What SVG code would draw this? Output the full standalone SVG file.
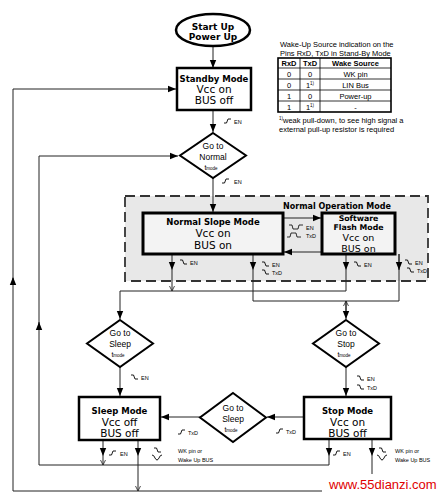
<svg xmlns="http://www.w3.org/2000/svg" width="444" height="497" viewBox="0 0 444 497">
<style>
.bx{fill:#fff;stroke:#000;stroke-width:2.5}
.nb{fill:#f3f3f3;stroke:#000;stroke-width:3}
.dm{fill:#fff;stroke:#000;stroke-width:2}
.ln{fill:none;stroke:#222;stroke-width:1}
.tb{font-family:"DejaVu Sans",Verdana,sans-serif;font-weight:bold;font-size:8.5px;text-anchor:middle;fill:#000}
.tr{font-family:"DejaVu Sans",Verdana,sans-serif;font-size:10.5px;text-anchor:middle;fill:#000}
.d{font-family:"Liberation Sans",Arial,sans-serif;font-size:8.5px;text-anchor:middle;fill:#000}
.s{font-family:"Liberation Sans",Arial,sans-serif;font-size:5.5px;fill:#000}
.tt{font-family:"Liberation Sans",Arial,sans-serif;font-size:7.5px;fill:#000}
.th{font-family:"Liberation Sans",Arial,sans-serif;font-size:7.5px;font-weight:bold;text-anchor:middle;fill:#000}
.tc{font-family:"Liberation Sans",Arial,sans-serif;font-size:7.5px;text-anchor:middle;fill:#000}
</style>
<defs>
<marker id="ah" markerUnits="userSpaceOnUse" markerWidth="8" markerHeight="8" viewBox="0 0 8 8" refX="8" refY="4" orient="auto"><path d="M0,0.8 L8,4 L0,7.2 Z" fill="#000"/></marker>
<marker id="ch" markerUnits="userSpaceOnUse" markerWidth="6" markerHeight="6" viewBox="0 0 6 6" refX="6" refY="3" orient="auto"><path d="M1,0.5 L6,3 L1,5.5" fill="none" stroke="#222" stroke-width="0.8"/></marker>
<path id="rise" d="M0,4 h2.5 l1.5,-4 h3" fill="none" stroke="#000" stroke-width="0.9"/>
<path id="fall" d="M0,0 h2.5 l1.5,4 h3" fill="none" stroke="#000" stroke-width="0.9"/>
<path id="dip" d="M0,0 q2,0 3,3 q1,2 2,2 q1,0 2,-2 q1,-3 3,-3" fill="none" stroke="#000" stroke-width="0.9"/>
<path id="npulse" d="M0,0 h3 l1,4 h5 l1,-4 h4" fill="none" stroke="#000" stroke-width="0.8"/>
<path id="ppulse" d="M0,4 h3 l1,-4 h5 l1,4 h4" fill="none" stroke="#000" stroke-width="0.8"/>
</defs>
<rect width="444" height="497" fill="#fff"/>

<g id="normal-operation-mode">
<rect x="125" y="196" width="303" height="85" fill="#e8e8e8" stroke="#333" stroke-width="1.8" stroke-dasharray="10,5"/>
<text x="337" y="209" class="tb" style="font-size:8px">Normal Operation Mode</text>
</g>

<g id="connectors">
<path class="ln" d="M213,46 V68" marker-end="url(#ah)"/>
<path class="ln" d="M213,110 V132" marker-end="url(#ah)"/>
<path class="ln" d="M213,178 V212" marker-end="url(#ah)"/>
<path class="ln" d="M283,218 H321" marker-end="url(#ah)"/>
<path class="ln" d="M322,252 H284" marker-end="url(#ah)"/>
<path class="ln" d="M172,254 V270" marker-end="url(#ah)"/>
<path class="ln" d="M172,270 V291" marker-end="url(#ch)"/>
<path class="ln" d="M253,254 V270" marker-end="url(#ah)"/>
<path class="ln" d="M253,270 V301 H399 V254"/>
<path class="ln" d="M399,254 V270" marker-end="url(#ah)"/>
<path class="ln" d="M346,254 V270" marker-end="url(#ah)"/>
<path class="ln" d="M346,270 V291 H120 V319" marker-end="url(#ah)"/>
<path class="ln" d="M346,312 V301" marker-end="url(#ch)"/>
<path class="ln" d="M346,301 V319" marker-end="url(#ah)"/>
<path class="ln" d="M120,367 V396" marker-end="url(#ah)"/>
<path class="ln" d="M346,367 V396" marker-end="url(#ah)"/>
<path class="ln" d="M200,417 H161" marker-end="url(#ah)"/>
<path class="ln" d="M304,417 H267" marker-end="url(#ah)"/>
<path class="ln" d="M103,440 V456" marker-end="url(#ah)"/>
<path class="ln" d="M103,456 V465" marker-end="url(#ch)"/>
<path class="ln" d="M138,440 V456" marker-end="url(#ah)"/>
<path class="ln" d="M138,456 V491" marker-end="url(#ch)"/>
<path class="ln" d="M329,439 V456" marker-end="url(#ah)"/>
<path class="ln" d="M329,456 V465"/>
<path class="ln" d="M372,439 V456" marker-end="url(#ah)"/>
<path class="ln" d="M372,456 V474"/>
<path class="ln" d="M329,465 H39 V322"/>
<path class="ln" d="M39,330 V322" marker-end="url(#ah)"/>
<path class="ln" d="M39,322 V156 H178" marker-end="url(#ah)"/>
<path class="ln" d="M322,491 H13 V278"/>
<path class="ln" d="M13,285 V277" marker-end="url(#ah)"/>
<path class="ln" d="M13,277 V89 H176" marker-end="url(#ah)"/>
</g>

<g id="annotations">
<use href="#rise" x="224" y="119"/><text class="s" x="234" y="124">EN</text>
<use href="#rise" x="222" y="179"/><text class="s" x="234" y="184">EN</text>
<use href="#npulse" x="289" y="225"/><text class="s" x="306" y="230">EN</text>
<use href="#ppulse" x="287" y="233"/><text class="s" x="306" y="238">TxD</text>
<use href="#fall" x="180" y="260"/><text class="s" x="190" y="265">EN</text>
<use href="#fall" x="262" y="262"/><text class="s" x="272" y="267">EN</text>
<use href="#fall" x="262" y="270"/><text class="s" x="272" y="275">TxD</text>
<use href="#fall" x="354" y="262"/><text class="s" x="364" y="267">EN</text>
<use href="#fall" x="405" y="260"/><text class="s" x="415" y="265">EN</text>
<use href="#fall" x="407" y="268"/><text class="s" x="417" y="273">TxD</text>
<use href="#fall" x="131" y="375"/><text class="s" x="141" y="380">EN</text>
<use href="#fall" x="357" y="376"/><text class="s" x="367" y="381">EN</text>
<use href="#fall" x="357" y="385"/><text class="s" x="367" y="390">TxD</text>
<use href="#rise" x="178" y="430"/><text class="s" x="188" y="435">TxD</text>
<use href="#rise" x="276" y="429"/><text class="s" x="286" y="434">TxD</text>
<use href="#rise" x="109" y="451"/><text class="s" x="120" y="456">EN</text>
<use href="#fall" x="154" y="448"/><use href="#dip" x="152" y="455"/>
<text class="s" x="178" y="453">WK pin or</text><text class="s" x="178" y="462">Wake Up BUS</text>
<use href="#rise" x="333" y="451"/><text class="s" x="343" y="456">EN</text>
<use href="#fall" x="379" y="448"/><use href="#dip" x="377" y="455"/>
<text class="s" x="395" y="453">WK pin or</text><text class="s" x="395" y="462">Wake Up BUS</text>
</g>

<g id="start-up">
<ellipse cx="213" cy="30" rx="37" ry="16" class="bx"/>
<text x="213" y="29.5" class="tb" style="font-size:9px">Start Up</text>
<text x="213" y="39.5" class="tb" style="font-size:9px">Power Up</text>
</g>
<g id="standby-mode">
<rect x="177" y="68" width="74" height="42" class="bx"/>
<text x="214" y="82" class="tb">Standby Mode</text>
<text x="214" y="93" class="tr">Vcc on</text>
<text x="214" y="104" class="tr">BUS off</text>
</g>
<g id="go-to-normal">
<polygon points="213,133 246,155.5 213,178 180,155.5" class="dm"/>
<text x="213" y="149" class="d">Go to</text>
<text x="213" y="159.5" class="d">Normal</text>
<text x="211" y="170" class="d" style="font-size:7px">t<tspan font-size="4.5">mode</tspan></text>
</g>
<g id="normal-slope-mode">
<rect x="143" y="213" width="140" height="41" class="nb"/>
<text x="213" y="225" class="tb">Normal Slope Mode</text>
<text x="213" y="237" class="tr">Vcc on</text>
<text x="213" y="249" class="tr">BUS on</text>
</g>
<g id="software-flash-mode">
<rect x="322" y="213" width="73" height="41" class="nb"/>
<text x="358.5" y="220.5" class="tb" style="font-size:7.8px">Software</text>
<text x="358.5" y="229.6" class="tb" style="font-size:7.8px">Flash Mode</text>
<text x="358.5" y="240.6" class="tr" style="font-size:9.5px">Vcc on</text>
<text x="358.5" y="251.6" class="tr" style="font-size:9.5px">BUS on</text>
</g>
<g id="go-to-sleep">
<polygon points="120,320 153,343.5 120,367 87,343.5" class="dm"/>
<text x="120" y="336" class="d">Go to</text>
<text x="120" y="346.5" class="d">Sleep</text>
<text x="118" y="357" class="d" style="font-size:7px">t<tspan font-size="4.5">mode</tspan></text>
</g>
<g id="go-to-stop">
<polygon points="346,320 379,343.5 346,367 313,343.5" class="dm"/>
<text x="346" y="336" class="d">Go to</text>
<text x="346" y="346.5" class="d">Stop</text>
<text x="344" y="357" class="d" style="font-size:7px">t<tspan font-size="4.5">mode</tspan></text>
</g>
<g id="sleep-mode">
<rect x="79" y="397" width="81" height="43" class="bx"/>
<text x="119.5" y="414" class="tb">Sleep Mode</text>
<text x="119.5" y="426" class="tr">Vcc off</text>
<text x="119.5" y="437" class="tr">BUS off</text>
</g>
<g id="go-to-sleep-2">
<polygon points="233,393 266,417.5 233,442 200,417.5" class="dm"/>
<text x="233" y="411" class="d">Go to</text>
<text x="233" y="421.5" class="d">Sleep</text>
<text x="231" y="432" class="d" style="font-size:7px">t<tspan font-size="4.5">mode</tspan></text>
</g>
<g id="stop-mode">
<rect x="304" y="397" width="87" height="42" class="bx"/>
<text x="347.5" y="414" class="tb">Stop Mode</text>
<text x="347.5" y="426" class="tr">Vcc on</text>
<text x="347.5" y="437" class="tr">BUS off</text>
</g>

<g id="wake-up-table">
<text class="tt" x="280" y="46.5">Wake-Up Source indication on the</text>
<text class="tt" x="280" y="55.5">Pins RxD, TxD in Stand-By Mode</text>
<g stroke="#000" stroke-width="0.8" fill="none">
<line x1="278" y1="68" x2="391" y2="68"/>
<line x1="278" y1="79" x2="391" y2="79"/>
<line x1="278" y1="90" x2="391" y2="90"/>
<line x1="278" y1="101" x2="391" y2="101"/>
<line x1="300" y1="58" x2="300" y2="112"/>
<line x1="320" y1="58" x2="320" y2="112"/>
<rect x="278" y="58" width="113" height="54" stroke-width="1.6"/>
</g>
<text class="th" x="289" y="66">RxD</text><text class="th" x="310" y="66">TxD</text><text class="th" x="355.5" y="66">Wake Source</text>
<text class="tc" x="289" y="76.5">0</text><text class="tc" x="310" y="76.5">0</text><text class="tc" x="355.5" y="76.5">WK pin</text>
<text class="tc" x="289" y="87.5">0</text><text class="tc" x="310" y="87.5">1<tspan font-size="4.5" dy="-3">1)</tspan></text><text class="tc" x="355.5" y="87.5">LIN Bus</text>
<text class="tc" x="289" y="98.5">1</text><text class="tc" x="310" y="98.5">0</text><text class="tc" x="355.5" y="98.5">Power-up</text>
<text class="tc" x="289" y="109.5">1</text><text class="tc" x="310" y="109.5">1<tspan font-size="4.5" dy="-3">1)</tspan></text><text class="tc" x="355.5" y="109.5">-</text>
<text class="tt" x="279" y="123"><tspan font-size="4.5" dy="-3">1)</tspan><tspan dy="3">weak pull-down, to see high signal a</tspan></text>
<text class="tt" x="279" y="132">external pull-up resistor is required</text>
</g>

<text x="329" y="489" font-family="Liberation Sans, Arial, sans-serif" font-size="13" fill="#e00000">www.55dianzi.com</text>
</svg>
